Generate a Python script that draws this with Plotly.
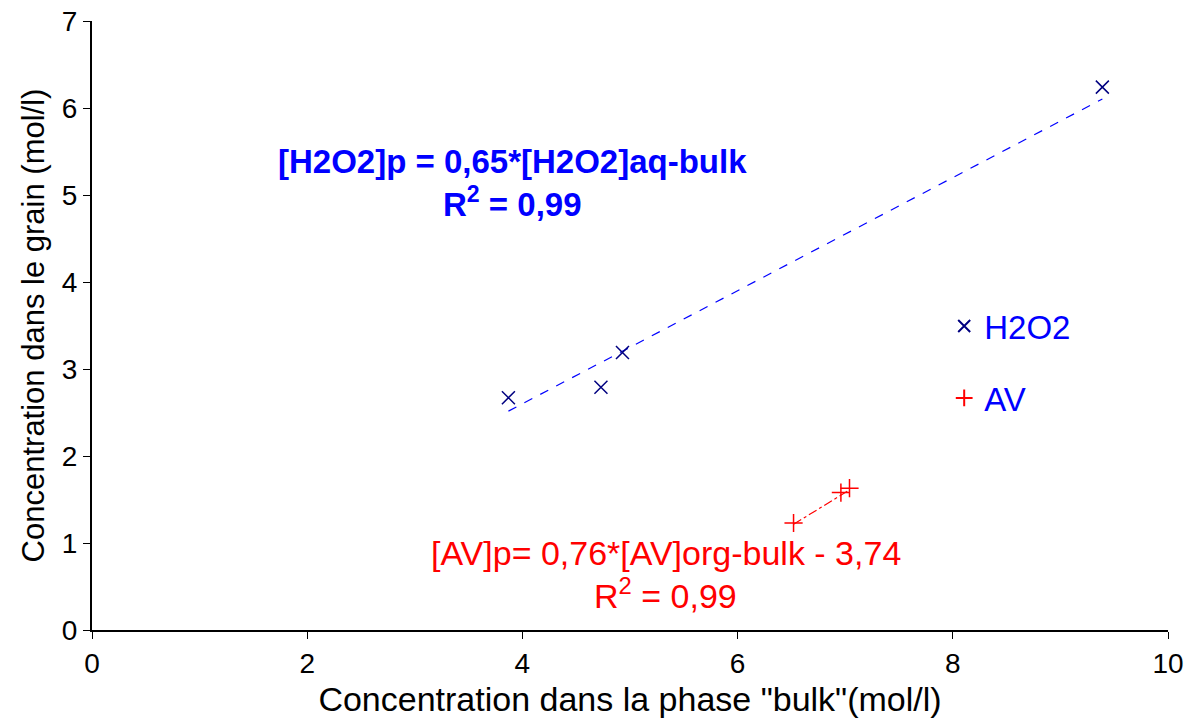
import plotly.graph_objects as go

# Data
h2o2_x = [3.87, 4.73, 4.93, 9.39]
h2o2_y = [2.67, 2.79, 3.19, 6.24]
av_x = [6.52, 6.96, 7.04]
av_y = [1.23, 1.58, 1.63]

# Trend line coefficients (as printed on the chart)
h2o2_slope, h2o2_icpt = 0.65, 0.0
av_slope, av_icpt = 0.76, -3.74

x_ticks = [0, 2, 4, 6, 8, 10]
y_ticks = [0, 1, 2, 3, 4, 5, 6, 7]

FONT = "Liberation Sans, Arial, sans-serif"

fig = go.Figure()

# Trend lines
hx = [min(h2o2_x), max(h2o2_x)]
fig.add_trace(go.Scatter(x=hx, y=[h2o2_slope * v + h2o2_icpt for v in hx],
                         mode="lines", line=dict(color="#0000ff", width=1.2, dash="dash"),
                         showlegend=False, hoverinfo="skip"))
ax = [min(av_x), max(av_x)]
fig.add_trace(go.Scatter(x=ax, y=[av_slope * v + av_icpt for v in ax],
                         mode="lines", line=dict(color="#ff0000", width=1.2, dash="dashdot"),
                         showlegend=False, hoverinfo="skip"))

fig.add_trace(go.Scatter(x=h2o2_x, y=h2o2_y, mode="markers", name="H2O2",
                         legendgroup="a",
                         marker=dict(symbol="x-thin", size=13, color="#000080",
                                     line=dict(color="#000080", width=1.5))))
fig.add_trace(go.Scatter(x=av_x, y=av_y, mode="markers", name="AV",
                         legendgroup="b",
                         marker=dict(symbol="cross-thin", size=13, color="#ff0000",
                                     line=dict(color="#ff0000", width=1.5))))

fig.add_annotation(x=3.91, y=5.39, xref="x", yref="y",
                   text="<b>[H2O2]p = 0,65*[H2O2]aq-bulk</b>", showarrow=False,
                   font=dict(family=FONT, size=33, color="#0000ff"))
fig.add_annotation(x=3.91, y=4.92, xref="x", yref="y",
                   text="<b>R<sup>2</sup> = 0,99</b>", showarrow=False,
                   font=dict(family=FONT, size=33, color="#0000ff"))
fig.add_annotation(x=5.33, y=0.89, xref="x", yref="y",
                   text="[AV]p= 0,76*[AV]org-bulk - 3,74", showarrow=False,
                   font=dict(family=FONT, size=34, color="#ff0000"))
fig.add_annotation(x=5.33, y=0.42, xref="x", yref="y",
                   text="R<sup>2</sup> = 0,99", showarrow=False,
                   font=dict(family=FONT, size=34, color="#ff0000"))

fig.update_layout(
    width=1186, height=716,
    margin=dict(l=84, r=26, t=13, b=94),
    paper_bgcolor="white", plot_bgcolor="white",
    font=dict(family=FONT, size=28, color="black"),
    showlegend=True,
    legend=dict(x=0.792, y=0.44, xanchor="left", yanchor="middle",
                font=dict(size=33, color="#0000ff"),
                bgcolor="rgba(0,0,0,0)", tracegroupgap=26, itemsizing="constant"),
    xaxis=dict(range=[0, 10], tickvals=x_ticks, ticktext=[str(v) for v in x_ticks],
               showgrid=False, zeroline=False, showline=True, linecolor="black", linewidth=2,
               ticks="outside", ticklen=7, tickcolor="black", tickfont=dict(size=28),
               automargin=False, ticklabeloverflow="allow",
               title=dict(text='Concentration dans la phase "bulk"(mol/l)', font=dict(size=34), standoff=10)),
    yaxis=dict(range=[0, 7], tickvals=y_ticks, ticktext=[str(v) for v in y_ticks],
               showgrid=False, zeroline=False, showline=True, linecolor="black", linewidth=2,
               ticks="outside", ticklen=7, tickcolor="black", tickfont=dict(size=28),
               automargin=False, ticklabeloverflow="allow",
               title=dict(text="Concentration dans le grain (mol/l)", font=dict(size=31), standoff=8)),
)

fig.write_html("out.html")
